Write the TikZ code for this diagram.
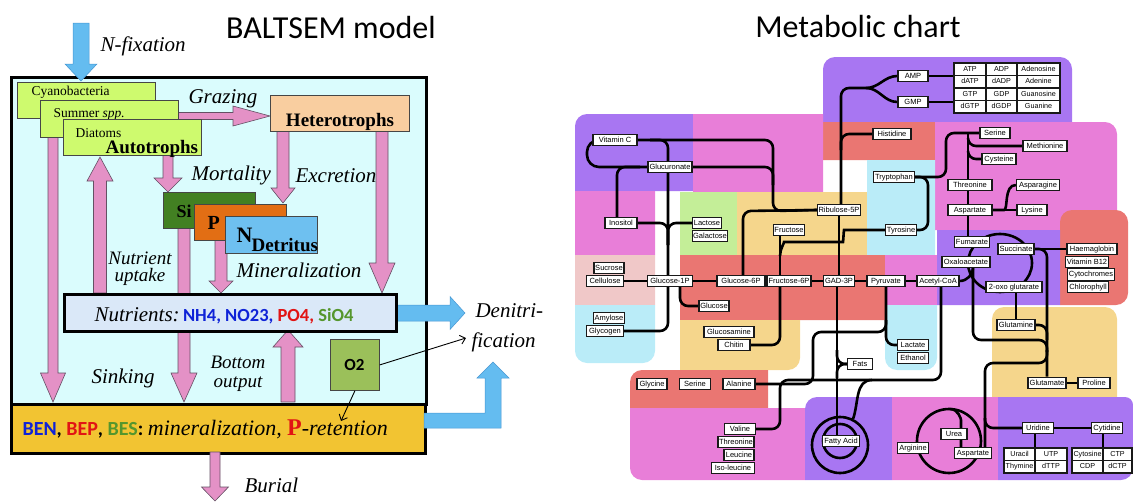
\documentclass[tikz,border=0pt]{standalone}
\usepackage{fontspec}
\setmainfont{Liberation Serif}
\newfontfamily\carl{Carlito}
\newfontfamily\ars{Liberation Sans}
\usetikzlibrary{arrows.meta}
\pgfdeclarelayer{bg}
\pgfdeclarelayer{lines}
\pgfsetlayers{bg,lines,main}
\definecolor{cyanbg}{RGB}{218,252,253}
\definecolor{limeg}{RGB}{206,250,110}
\definecolor{hetc}{RGB}{249,206,160}
\definecolor{sigreen}{RGB}{66,128,34}
\definecolor{porange}{RGB}{226,110,20}
\definecolor{nblue}{RGB}{110,192,240}
\definecolor{nutbg}{RGB}{218,232,248}
\definecolor{bengold}{RGB}{242,196,50}
\definecolor{o2green}{RGB}{155,192,90}
\definecolor{apink}{RGB}{228,145,198}
\definecolor{ablue}{RGB}{100,188,240}
\definecolor{cblue}{RGB}{15,35,215}
\definecolor{cred}{RGB}{225,20,20}
\definecolor{cgreen}{RGB}{85,150,45}
\definecolor{mpurple}{RGB}{168,118,242}
\definecolor{mpink}{RGB}{232,126,216}
\definecolor{mred}{RGB}{234,118,114}
\definecolor{myellow}{RGB}{245,214,140}
\definecolor{mlblue}{RGB}{186,236,248}
\definecolor{mlgreen}{RGB}{196,238,152}
\definecolor{mlpink}{RGB}{240,200,200}
\newcommand\fsz[1]{\fontsize{#1}{#1}\selectfont}
% vertical fat arrow: style, x, y0, ytip, shaft half, head half, head length (negative for upward)
\newcommand\fatV[7]{\path[#1] ({#2-#5},{#3}) -- ({#2-#5},{#4-#7}) -- ({#2-#6},{#4-#7}) -- ({#2},{#4}) -- ({#2+#6},{#4-#7}) -- ({#2+#5},{#4-#7}) -- ({#2+#5},{#3}) -- cycle;}
% horizontal fat arrow: style, y, x0, xtip, shaft half, head half, head length
\newcommand\fatH[7]{\path[#1] ({#3},{#2-#5}) -- ({#4-#7},{#2-#5}) -- ({#4-#7},{#2-#6}) -- ({#4},{#2}) -- ({#4-#7},{#2+#6}) -- ({#4-#7},{#2+#5}) -- ({#3},{#2+#5}) -- cycle;}
% region with individually rounded corners: colour, x1, y1, x2, y2, rTL, rTR, rBR, rBL
\newcommand\rr[9]{\fill[#1] ({#2},{#3+#6}) .. controls ({#2},{#3+0.45*#6}) and ({#2+0.45*#6},{#3}) .. ({#2+#6},{#3})
 -- ({#4-#7},{#3}) .. controls ({#4-0.45*#7},{#3}) and ({#4},{#3+0.45*#7}) .. ({#4},{#3+#7})
 -- ({#4},{#5-#8}) .. controls ({#4},{#5-0.45*#8}) and ({#4-0.45*#8},{#5}) .. ({#4-#8},{#5})
 -- ({#2+#9},{#5}) .. controls ({#2+0.45*#9},{#5}) and ({#2},{#5-0.45*#9}) .. ({#2},{#5-#9}) -- cycle;}
\begin{document}
\begin{tikzpicture}[x=1pt,y=-1pt,
  lbox/.style={draw={rgb,255:red,70;green,70;blue,70}, line width=0.8pt, inner sep=0pt, anchor=north west},
  mb/.style={draw={rgb,255:red,25;green,25;blue,25}, fill=white, line width=1.2pt, font=\ars\fontsize{7.5}{8}\selectfont, inner xsep=1pt, inner ysep=0pt, minimum height=11.5, text height=5.6pt, text depth=1.5pt},
  mc/.style={mb, minimum height=12.5, font=\ars\fontsize{7.2}{8}\selectfont},
  mline/.style={line width=2.6pt, rounded corners=8pt},
  parrow/.style={fill=apink, draw={rgb,255:red,100;green,80;blue,100}, line width=0.6pt},
  barrow/.style={fill=ablue, draw={rgb,255:red,70;green,150;blue,210}, line width=0.5pt},
  lbl/.style={anchor=base west, font=\itshape\fsz{21}},
  thinarr/.style={line width=0.9pt, -{Straight Barb[length=5pt,width=9pt]}}]
\useasboundingbox (0,0) rectangle (1133,501);

% ================= LEFT: BALTSEM =================
\node[font=\carl\fsz{32}] (t1) at (331,27) {BALTSEM model};
\begin{pgfonlayer}{bg}
\node[draw, line width=2.6pt, fill=cyanbg, minimum width=415, minimum height=327, anchor=north west, inner sep=0] (water) at (10,76) {};
\node[draw, line width=2.6pt, fill=bengold, minimum width=414, minimum height=49, anchor=north west, inner sep=0] (ben) at (10,403) {};
\end{pgfonlayer}
\begin{pgfonlayer}{lines}
\fatV{parrow}{53}{118}{402}{5}{12.5}{29}
\fatV{parrow}{184}{228}{402}{6}{13}{29}
\fatV{parrow}{100}{293}{157}{6.5}{13}{-24}
\fatV{parrow}{382}{131}{293}{6}{13}{30}
\fatV{parrow}{283}{131}{203}{6}{12}{15}
\fatV{parrow}{168}{155}{192}{5}{14}{14}
\fatV{parrow}{221}{240}{293}{6}{12}{12}
\fatV{parrow}{288}{402}{330}{7}{15}{-17}
\fatH{parrow}{116}{178}{270}{3.5}{10}{37}
\fatV{parrow}{215}{452}{501}{5}{13.5}{14}
\fatH{barrow}{313}{395}{465}{8}{16.5}{15}
\path[barrow] (424,413) -- (485,413) -- (485,378) -- (477,378) -- (493,362) -- (509,378) -- (501,378) -- (501,428) -- (424,428) -- cycle;
\end{pgfonlayer}
\fatV{barrow}{81}{23}{81}{8}{16}{17}
\node[lbl] (nfix) at (97,51) {N-fixation};

\node[lbox, fill=limeg, minimum width=138, minimum height=36] (cyano) at (17,82) {};
\node[anchor=base west, font=\fsz{13.5}] (cyanot) at (28,95) {Cyanobacteria};
\node[lbox, fill=limeg, minimum width=138, minimum height=37] (summer) at (40,100) {};
\node[anchor=base west, font=\fsz{13.5}] (summert) at (50,117) {Summer \textit{spp.}};
\node[lbox, fill=limeg, minimum width=138, minimum height=36] (diat) at (63,119) {};
\node[anchor=base west, font=\fsz{13.5}] (diatt) at (72,137) {Diatoms};
\node[anchor=base west, font=\bfseries\fsz{19}] (autot) at (102,153) {Autotrophs};
\node[lbox, fill=hetc, minimum width=139, minimum height=36] (hetero) at (270,95) {};
\node[anchor=base, font=\bfseries\fsz{19}] (hetert) at (340,126) {Heterotrophs};

\node[lbox, fill=sigreen, minimum width=92, minimum height=36] (si) at (163,192) {};
\node[anchor=base west, font=\bfseries\fsz{18}] (sit) at (173,217) {Si};
\node[lbox, fill=porange, minimum width=92, minimum height=36] (p) at (194,204) {};
\node[anchor=base west, font=\bfseries\fsz{20}] (pt) at (204,229) {P};
\node[lbox, fill=nblue, minimum width=92, minimum height=37] (n) at (225,216) {};
\node[anchor=base west, font=\bfseries\fsz{22}] (nt) at (233,242) {N};
\node[anchor=base west, font=\bfseries\fsz{19}] (detr) at (248,251) {Detritus};

\node[draw, line width=2.6pt, fill=nutbg, minimum width=332, minimum height=37, anchor=north west, inner sep=0] (nut) at (63,293) {};
\node[anchor=base west] (nutt) at (91,321) {{\itshape\fsz{21}Nutrients:} {\carl\bfseries\fsz{18.5}\textcolor{cblue}{NH4, NO23,} \textcolor{cred}{PO4,} \textcolor{cgreen}{SiO4}}};

\node[lbox, fill=o2green, minimum width=49, minimum height=51] (o2) at (330,339) {};
\node[font=\carl\bfseries\fsz{17}] (o2t) at (354.5,365) {O2};

\node[lbl] (graz) at (185,103) {Grazing};
\node[lbl] (mort) at (188,180) {Mortality};
\node[lbl] (excr) at (292,182) {Excretion};
\node[anchor=base, font=\itshape\fsz{19}, inner sep=0pt] (nutr1) at (140,264) {Nutrient};
\node[anchor=base, font=\itshape\fsz{19}, inner sep=0pt] (nutr2) at (140,281) {uptake};
\node[lbl] (miner) at (233,277) {Mineralization};
\node[lbl] (sink) at (88,383) {Sinking};
\node[anchor=base, font=\itshape\fsz{19}, inner sep=0pt] (bot1) at (238,368) {Bottom};
\node[anchor=base, font=\itshape\fsz{19}, inner sep=0pt] (bot2) at (238,387) {output};
\node[lbl] (deni) at (472,317) {Denitri-};
\node[lbl] (fic) at (468,347) {fication};
\node[lbl] (bur) at (241,492) {Burial};
\node[anchor=base west] (bent) at (19,435) {{\carl\bfseries\fsz{20}\textcolor{cblue}{BEN}, \textcolor{cred}{BEP}, \textcolor{cgreen}{BES}:\ }{\itshape\fsz{22}mineralization,\ }{\bfseries\fsz{24}\textcolor{cred}{P}}{\itshape\fsz{22}-retention}};
\coordinate (benin) at (341,421);
\draw[thinarr] (o2.east) -- (466,338);
\draw[thinarr] (o2.south) -- (benin);

% ================= RIGHT: Metabolic chart =================
\node[font=\carl\fsz{32}] (t2) at (858,27) {Metabolic chart};
\begin{pgfonlayer}{bg}
\rr{mpurple}{823}{57}{1072}{122}{12}{12}{0}{0}
\rr{mred}{823}{122}{935}{160}{0}{0}{0}{0}
\rr{mpink}{935}{122}{1117}{230}{0}{12}{0}{0}
\rr{mred}{1060}{210}{1128}{305}{12}{12}{12}{0}
\rr{mpurple}{575}{114}{693}{191}{12}{0}{0}{0}
\rr{mpink}{693}{114}{823}{192}{0}{0}{0}{0}
\rr{mpink}{575}{191}{655}{255}{0}{0}{0}{0}
\rr{mlgreen}{680}{192}{737}{255}{0}{0}{0}{0}
\rr{myellow}{737}{192}{867}{255}{0}{0}{0}{0}
\rr{mlblue}{867}{160}{935}{255}{0}{0}{0}{0}
\rr{mlpink}{575}{255}{655}{305}{0}{0}{0}{0}
\rr{mlblue}{575}{305}{655}{363}{0}{0}{12}{12}
\rr{mred}{680}{255}{885}{320}{0}{0}{0}{0}
\rr{mpink}{885}{255}{937}{305}{0}{0}{0}{0}
\rr{mpurple}{937}{230}{1060}{305}{0}{0}{0}{0}
\rr{mlblue}{885}{305}{937}{370}{0}{0}{12}{12}
\rr{myellow}{680}{320}{800}{370}{0}{0}{12}{0}
\rr{myellow}{992}{307}{1117}{397}{12}{12}{0}{0}
\rr{mred}{630}{370}{768}{408}{12}{0}{0}{0}
\rr{mpink}{630}{408}{805}{480}{0}{0}{0}{12}
\rr{mpurple}{805}{397}{892}{480}{12}{0}{0}{0}
\rr{mpink}{892}{397}{998}{480}{0}{0}{0}{0}
\rr{mpurple}{998}{397}{1133}{480}{0}{8}{12}{0}
\end{pgfonlayer}

% nodes
\node[mb, minimum width=44] (vitc) at (615,140) {Vitamin C};
\node[mb, minimum width=44] (glucur) at (670,167) {Glucuronate};
\node[mb, minimum width=32] (inos) at (621,223) {Inositol};
\node[mb, minimum width=29] (lact) at (707,223) {Lactose};
\node[mb, minimum width=35] (galac) at (710,236) {Galactose};
\node[mb, minimum width=31] (fruc) at (789,230) {Fructose};
\node[mb, minimum width=43] (rib) at (839,210) {Ribulose-5P};
\node[mb, minimum width=30] (amp) at (913,76) {AMP};
\node[mb, minimum width=30] (gmp) at (913,102) {GMP};
\node[mc, minimum width=32] (t11) at (970,69.25) {ATP};
\node[mc, minimum width=31] (t12) at (1001.5,69.25) {ADP};
\node[mc, minimum width=43] (t13) at (1038.5,69.25) {Adenosine};
\node[mc, minimum width=32] (t21) at (970,81.75) {dATP};
\node[mc, minimum width=31] (t22) at (1001.5,81.75) {dADP};
\node[mc, minimum width=43] (t23) at (1038.5,81.75) {Adenine};
\node[mc, minimum width=32] (t31) at (970,94.25) {GTP};
\node[mc, minimum width=31] (t32) at (1001.5,94.25) {GDP};
\node[mc, minimum width=43] (t33) at (1038.5,94.25) {Guanosine};
\node[mc, minimum width=32] (t41) at (970,106.75) {dGTP};
\node[mc, minimum width=31] (t42) at (1001.5,106.75) {dGDP};
\node[mc, minimum width=43] (t43) at (1038.5,106.75) {Guanine};
\node[mb, minimum width=38] (hist) at (892,134) {Histidine};
\node[mb, minimum width=30] (ser1) at (995,133) {Serine};
\node[mb, minimum width=44] (meth) at (1045,146) {Methionine};
\node[mb, minimum width=34] (cys) at (999,159) {Cysteine};
\node[mb, minimum width=41] (tryp) at (894,177) {Tryptophan};
\node[mb, minimum width=44] (thr1) at (970,185) {Threonine};
\node[mb, minimum width=43] (aspn) at (1038,185) {Asparagine};
\node[mb, minimum width=44] (asp1) at (970,210) {Aspartate};
\node[mb, minimum width=30] (lys) at (1032,210) {Lysine};
\node[mb, minimum width=31] (tyr) at (901,230) {Tyrosine};
\node[mb, minimum width=35] (fum) at (972,242) {Fumarate};
\node[mb, minimum width=36] (succ) at (1016,249) {Succinate};
\node[mb, minimum width=48] (oxa) at (966,262) {Oxaloacetate};
\node[mb, minimum width=50] (haem) at (1092,249) {Haemaglobin};
\node[mb, minimum width=41] (b12) at (1087,262) {Vitamin B12};
\node[mb, minimum width=47] (cyto) at (1091,274.5) {Cytochromes};
\node[mb, minimum width=41] (chl) at (1088,287) {Chlorophyll};
\node[mb, minimum width=56] (oxo) at (1014,287) {2-oxo glutarate};
\node[mb, minimum width=30] (sucr) at (609,268) {Sucrose};
\node[mb, minimum width=37] (cell) at (605,281) {Cellulose};
\node[mb, minimum width=45] (g1p) at (670,281) {Glucose-1P};
\node[mb, minimum width=48] (g6p) at (741,281) {Glucose-6P};
\node[mb, minimum width=44] (f6p) at (789,281) {Fructose-6P};
\node[mb, minimum width=31] (gad) at (839,281) {GAD-3P};
\node[mb, minimum width=38] (pyr) at (886,281) {Pyruvate};
\node[mb, minimum width=42] (acoa) at (938,281) {Acetyl-CoA};
\node[mb, minimum width=30] (gluc) at (714,306) {Glucose};
\node[mb, minimum width=30] (amyl) at (609,318) {Amylose};
\node[mb, minimum width=37] (glyc) at (605,331) {Glycogen};
\node[mb, minimum width=50] (glcn) at (729,332) {Glucosamine};
\node[mb, minimum width=32] (chit) at (734,345) {Chitin};
\node[mb, minimum width=30] (gly) at (652,384) {Glycine};
\node[mb, minimum width=31] (ser2) at (695,384) {Serine};
\node[mb, minimum width=32] (ala) at (739,384) {Alanine};
\node[mb, minimum width=31] (val) at (740,429) {Valine};
\node[mb, minimum width=36] (thr2) at (736,442) {Threonine};
\node[mb, minimum width=30] (leu) at (739,455) {Leucine};
\node[mb, minimum width=43] (ile) at (733,468) {Iso-leucine};
\node[mb, minimum width=25] (fats) at (860,364) {Fats};
\node[mb, minimum width=37] (fatac) at (841,441) {Fatty Acid};
\node[mb, minimum width=31] (lac) at (913,345) {Lactate};
\node[mb, minimum width=31] (eth) at (913,358) {Ethanol};
\node[mb, minimum width=31] (arg) at (913,448) {Arginine};
\node[mb, minimum width=26] (urea) at (954,434) {Urea};
\node[mb, minimum width=37] (asp2) at (973,453) {Aspartate};
\node[mb, minimum width=38] (glun) at (1016,325) {Glutamine};
\node[mb, minimum width=38] (glut) at (1047,383) {Glutamate};
\node[mb, minimum width=32] (pro) at (1094,383) {Proline};
\node[mb, minimum width=31] (urid) at (1038,428) {Uridine};
\node[mb, minimum width=31] (cytd) at (1107,428) {Cytidine};
\node[mc, minimum width=31] (u11) at (1019.5,454.25) {Uracil};
\node[mc, minimum width=32] (u12) at (1051,454.25) {UTP};
\node[mc, minimum width=31] (u21) at (1019.5,466.75) {Thymine};
\node[mc, minimum width=32] (u22) at (1051,466.75) {dTTP};
\node[mc, minimum width=31] (c11) at (1087.5,454.25) {Cytosine};
\node[mc, minimum width=29] (c12) at (1117.5,454.25) {CTP};
\node[mc, minimum width=31] (c21) at (1087.5,466.75) {CDP};
\node[mc, minimum width=29] (c22) at (1117.5,466.75) {dCTP};

\begin{pgfonlayer}{lines}
\draw[mline] (vitc.east) -- (773,140) -- (773,211) -- (rib.west);
\draw[mline] (glucur.east) -- (773,167) -- (773,185);
\draw[mline, rounded corners=12pt] (vitc.west) -- (587,140) -- (587,167) -- (glucur.west);
\draw[mline] (640,167) -- (617,167) -- (617,218);
\draw[mline] (650,140) -- (668,140) -- (668,276);
\draw[mline] (inos.east) -- (668,223) -- (668,245);
\draw[mline] (lact.west) -- (668,223) -- (668,245);
\draw[mline] (668,286) -- (668,331) -- (glyc.east);
\draw[mline] (680,286) -- (680,306) -- (gluc.west);
\draw[mline] (cell.east) -- (g1p.west);
\draw[mline] (g1p.east) -- (g6p.west);
\draw[mline] (g6p.east) -- (f6p.west);
\draw[mline] (f6p.east) -- (gad.west);
\draw[mline] (gad.east) -- (pyr.west);
\draw[mline] (pyr.east) -- (acoa.west);
\draw[mline] (743,276) -- (743,211) -- (rib.west);
\draw[mline] (780,236) -- (780,276);
\draw[mline] (tyr.west) -- (852,230) to[out=180,in=0] (835,242) -- (792,242) to[out=180,in=90] (780,256);
\draw[mline] (780,286) -- (780,345) -- (chit.east);
\draw[mline] (amp.west) to[out=180,in=0] (866,88);
\draw[mline] (gmp.west) to[out=180,in=0] (866,88);
\draw[mline] (866,88) -- (841,88) -- (841,205);
\draw[mline] (hist.west) -- (841,134) -- (841,150);
\draw[mline] (rib.south) -- (gad.north);
\draw[mline] (amp.east) -- (amp.east -| t11.west);
\draw[mline] (gmp.east) -- (gmp.east -| t11.west);
\draw[mline] (tryp.east) -- (946,177) -- (946,133) -- (ser1.west);
\draw[mline] (tryp.east) -- (928,177) -- (928,230) -- (tyr.east);
\draw[mline] (968,133) -- (968,237);
\draw[mline] (968,138) -- (968,146) -- (meth.west);
\draw[mline] (968,151) -- (968,159) -- (cys.west);
\draw[mline] (asp1.east) -- (lys.west);
\draw[mline] (asp1.east) -- (996,210) to[out=0,in=180] (aspn.west);
\draw[mline] (1000,263) ellipse [x radius=32, y radius=29];
\draw[mline] (succ.east) -- (haem.west);
\draw[mline] (succ.east) -- (1047,249) -- (glut.north);
\draw[mline] (1016,293) -- (glun.north);
\draw[mline] (glun.east) -- (1047,325) -- (1047,340);
\draw[mline] (973,267) -- (973,340) -- (1047,340) -- (1047,352);
\draw[mline] (1047,350) -- (1047,363) -- (985,363) -- (985,448);
\draw[mline] (985,418) -- (985,428) -- (urid.west);
\draw[mline] (urid.east) -- (cytd.west);
\draw[mline] (1035,434) -- (1035,448);
\draw[mline] (1103,434) -- (1103,448);
\draw[mline] (glut.east) -- (pro.west);
\draw[mline] (886,287) -- (886,345) -- (lac.west);
\draw[mline] (acoa.east) to[out=0,in=-90] (973,267);
\draw[mline] (941,287) -- (941,380) -- (780,380) -- (780,429) -- (val.east);
\draw[mline] (886,320) -- (886,332) -- (813,332) -- (813,384) -- (ala.east);
\draw[mline] (837,287) -- (837,436);
\draw[mline] (837,350) -- (837,364) -- (fats.west);
\draw[mline] (837,378) -- (837,364) -- (fats.west);
\draw[mline] (840,445) circle [radius=28];
\draw[mline] (840,441) circle [radius=17];
\draw[mline] (853,419) to[out=70,in=180] (872,380);
\draw[mline] (949,441) circle [radius=32];
\draw[mline] (950,409) to[out=0,in=90] (961,428) -- (961,448);
\end{pgfonlayer}
\end{tikzpicture}
\end{document}
